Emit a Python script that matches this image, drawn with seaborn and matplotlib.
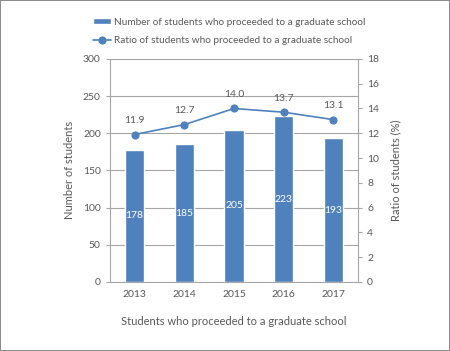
import seaborn as sns
import pandas as pd
import matplotlib.pyplot as plt

# data
years = ["2013", "2014", "2015", "2016", "2017"]
students = [178, 185, 205, 223, 193]
ratio = [11.9, 12.7, 14.0, 13.7, 13.1]

df = pd.DataFrame({"year": years, "students": students, "ratio": ratio})

sns.set_style("white")
plt.rcParams["font.family"] = ["Lato", "DejaVu Sans"]
text_col = "#595959"
blue = "#4F81BD"
grid_col = "#A6A6A6"

fig = plt.figure(figsize=(4.5, 3.51), dpi=100, linewidth=1.2, edgecolor="#8C8C8C")
ax = fig.add_axes([0.244, 0.197, 0.552, 0.635])

sns.barplot(data=df, x="year", y="students", color=blue, saturation=1,
            width=0.39, ax=ax, label="Number of students who proceeded to a graduate school")
ax.set_ylim(0, 300)
ax.set_yticks(range(0, 301, 50))
ax.yaxis.grid(True, color=grid_col, linewidth=0.8)
ax.set_axisbelow(True)
for i, v in enumerate(students):
    ax.text(i, v / 2, str(v), ha="center", va="center", color="white", fontsize=7.5)

ax2 = ax.twinx()
sns.pointplot(data=df, x="year", y="ratio", color=blue, markers="o", ax=ax2,
              markersize=5, linewidth=1.2,
              label="Ratio of students who proceeded to a graduate school")
ax2.set_ylim(0, 18)
ax2.set_yticks(range(0, 19, 2))
for i, v in enumerate(ratio):
    ax2.text(i, v + 0.75, f"{v:.1f}", ha="center", va="bottom", color=text_col, fontsize=7.5)

ax.set_xlim(-0.5, 4.5)
ax.set_xlabel("Students who proceeded to a graduate school", color=text_col, fontsize=8, labelpad=12)
ax.set_ylabel("Number of students", color=text_col, fontsize=8, labelpad=6)
ax2.set_ylabel("Ratio of students (%)", color=text_col, fontsize=8, labelpad=8)

for a in (ax, ax2):
    for s in a.spines.values():
        s.set_visible(False)
    a.tick_params(colors=text_col, labelsize=7.5, length=3, width=0.8)
ax.spines["left"].set_visible(True)
ax.spines["bottom"].set_visible(True)
ax2.spines["right"].set_visible(True)
for s in (ax.spines["left"], ax.spines["bottom"], ax2.spines["right"]):
    s.set_color(grid_col)
    s.set_linewidth(0.8)
ax.tick_params(axis="both", color=grid_col, direction="out")
ax2.tick_params(axis="y", color=grid_col, direction="out")
ax.tick_params(axis="x", length=0, pad=6)
ax.set_xticks([x + 0.5 for x in range(-1, 5)], minor=True)
ax.tick_params(axis="x", which="minor", length=3, color=grid_col)

h1, l1 = ax.get_legend_handles_labels()
h2, l2 = ax2.get_legend_handles_labels()
for a in (ax, ax2):
    if a.get_legend() is not None:
        a.get_legend().remove()
fig.legend(h1 + h2, l1 + l2, loc="upper center", bbox_to_anchor=(0.51, 0.975),
           ncol=1, frameon=False, fontsize=7.2, labelcolor=text_col,
           handlelength=1.8, handleheight=0.5, handletextpad=0.3, labelspacing=0.9)

fig.savefig("out.png", dpi=100, edgecolor=fig.get_edgecolor())
